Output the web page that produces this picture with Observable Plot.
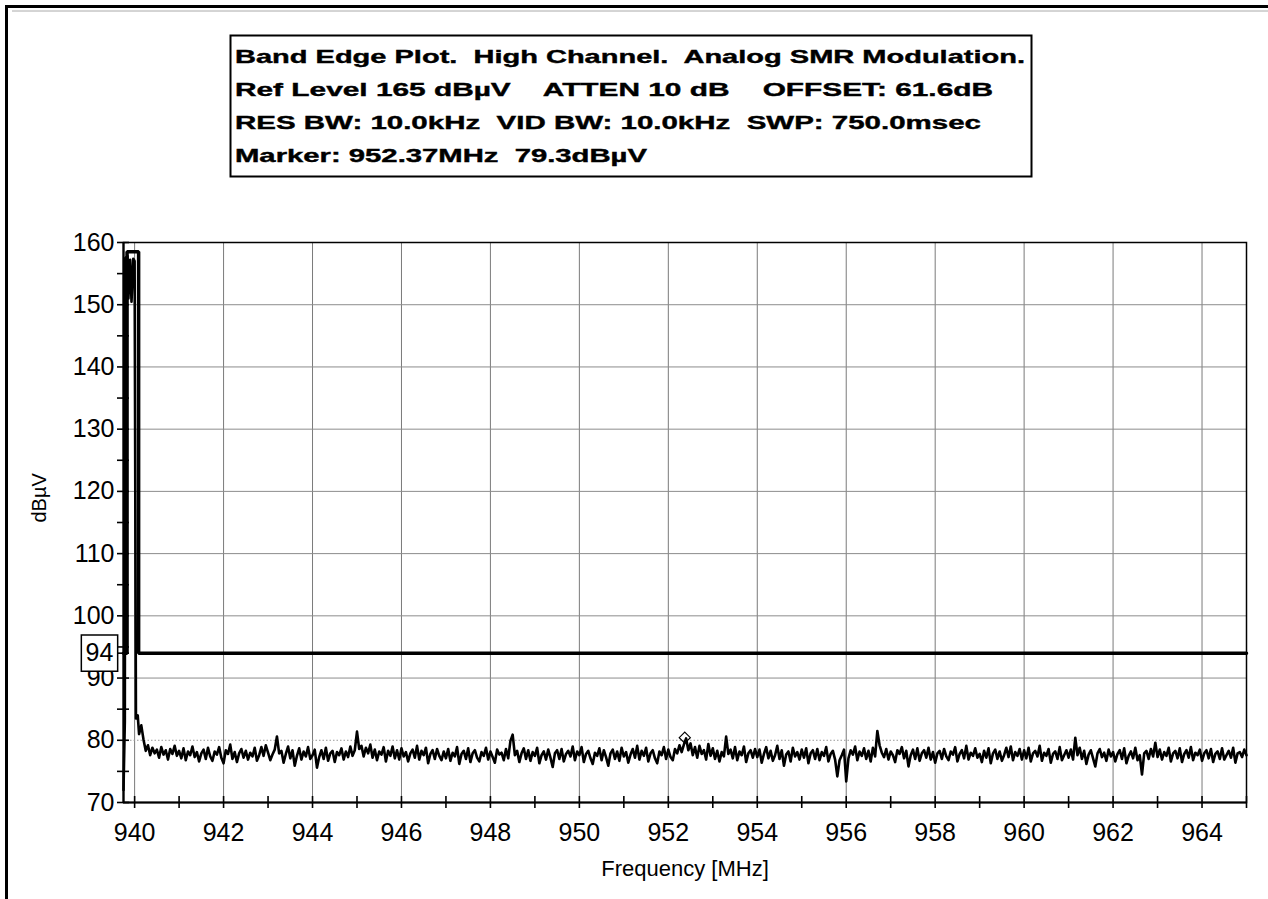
<!DOCTYPE html>
<html>
<head>
<meta charset="utf-8">
<script src="https://cdn.jsdelivr.net/npm/d3@7"></script>
<script src="https://cdn.jsdelivr.net/npm/@observablehq/plot@0.6"></script>
<style>
  html, body { margin: 0; padding: 0; background: #fff; }
  #page { position: relative; width: 1268px; height: 899px; overflow: hidden; font-family: "Liberation Sans", Arial, sans-serif; }
  #page > svg, #page > div { position: absolute; }
</style>
</head>
<body>
<div id="page">
  <svg id="border" width="1268" height="899" style="left:0;top:0">
    <line x1="5" y1="6.5" x2="1268" y2="6.5" stroke="#000" stroke-width="3"/>
    <line x1="12" y1="11" x2="1268" y2="11" stroke="#aaa" stroke-width="1"/>
    <line x1="6.5" y1="5" x2="6.5" y2="899" stroke="#000" stroke-width="3"/>
  </svg>
  <svg id="header" width="1268" height="190" style="left:0;top:0"></svg>
  <div id="chart" style="left:0;top:200px"></div>
</div>
<script>
// Analyzer settings shown in the header box
const headerLines = [
  "Band Edge Plot.  High Channel.  Analog SMR Modulation.",
  "Ref Level 165 dB\u00b5V    ATTEN 10 dB    OFFSET: 61.6dB",
  "RES BW: 10.0kHz  VID BW: 10.0kHz  SWP: 750.0msec",
  "Marker: 952.37MHz  79.3dB\u00b5V"
];

// Marker readout
const markerFreq = 952.37;
const markerLevel = 79.3;

// Limit line (dBµV)
const limitLevel = 94;
const limitFreq = [939.75, 939.83, 939.83, 940.09, 940.09, 965];
const limitLevels = [94, 94, 158.5, 158.5, 94, 94];

// Carrier edge at the low end of the sweep
const carrierFreq = [939.75, 939.78, 939.79, 939.84, 939.86, 939.9, 939.93, 939.97, 940.0, 940.03, 940.07, 940.1];
const carrierLevel = [72, 83, 157.5, 157.8, 151, 157.2, 150.5, 157.4, 157, 83.5, 84, 81];

// Noise floor trace, 0.05 MHz bins starting at 940.15 MHz
const noiseStart = 940.15;
const noiseStep = 0.05;
const noiseLevel = [
  82.4, 80.1, 78.3, 79.2, 77.6, 78.8, 77.9, 78.5, 77.2, 78.9, 77.7, 78.4, 76.9, 78.6, 77.8, 79.1, 77.5,
  78.3, 77.1, 78.7, 76.8, 78.2, 77.6, 79.0, 77.3, 78.1, 76.6, 77.9, 78.5, 77.0, 78.8, 77.4, 76.7, 78.2, 77.7, 78.9, 77.2,
  76.3, 78.4, 77.8, 79.3, 77.0, 78.1, 76.5, 77.9, 78.6, 77.2, 78.3, 76.9, 78.0, 77.4, 78.8, 76.7, 77.6, 78.9, 77.5, 79.2,
  78.0, 76.8, 77.7, 78.5, 80.6, 77.9, 78.3, 76.4, 77.8, 79.0, 77.1, 78.4, 75.9, 77.5, 78.7, 76.9, 78.2, 77.4, 78.9, 77.0,
  77.6, 78.5, 75.6, 77.3, 78.4, 77.0, 78.8, 76.7, 77.9, 78.3, 76.5, 78.1, 77.6, 78.7, 76.9, 78.2, 77.3, 79.0, 77.5, 78.4,
  81.4, 78.6, 79.1, 77.4, 78.8, 77.9, 79.3, 77.2, 78.5, 76.8, 78.2, 77.7, 78.9, 76.6, 78.3, 77.5, 79.0, 77.1, 78.4, 76.9,
  78.7, 77.4, 78.1, 76.6, 77.9, 78.5, 77.2, 79.1, 76.9, 78.3, 77.6, 78.8, 76.3, 77.8, 78.4, 77.0, 78.6, 77.5, 76.8, 78.2,
  77.1, 78.6, 76.7, 78.0, 77.4, 78.9, 76.2, 77.8, 78.3, 77.0, 78.7, 76.5, 77.9, 78.4, 77.2, 76.6, 78.1, 77.5, 78.8, 76.9,
  78.2, 77.3, 76.4, 78.5, 77.7, 78.0, 76.8, 78.6, 77.1, 79.9, 80.9, 77.6, 78.3, 76.5, 77.9, 78.7, 77.0, 78.4, 76.7, 78.1,
  77.5, 78.8, 76.3, 77.6, 78.2, 76.9, 78.5, 77.2, 75.7, 77.9, 78.4, 77.0, 78.6, 76.6, 77.8, 78.3, 77.4, 79.0, 76.8, 78.2,
  77.6, 78.9, 76.5, 77.8, 78.3, 77.1, 76.2, 78.0, 77.5, 78.7, 76.8, 78.4, 77.3, 75.9, 77.9, 78.5, 77.0, 78.2, 76.7, 78.8,
  77.4, 78.1, 76.4, 77.7, 78.6, 77.2, 79.1, 76.9, 78.3, 77.5, 78.8, 76.6, 77.9, 78.4, 77.1, 76.3, 78.2, 77.6, 78.9, 77.0,
  78.5, 77.3, 76.8, 78.6, 77.9, 79.2, 78.1, 79.3, 80.3, 78.4, 79.5, 77.6, 78.9, 77.2, 79.1, 77.8, 78.4, 76.9, 79.4, 77.5,
  78.7, 77.0, 78.3, 76.6, 78.1, 77.4, 80.6, 77.8, 78.5, 77.1, 78.9, 76.8, 78.2, 77.6, 79.0, 76.5, 77.9, 78.4, 77.2, 78.6,
  77.3, 78.5, 76.4, 77.8, 78.9, 77.1, 78.3, 76.7, 77.6, 79.1, 77.0, 78.4, 75.9, 77.7, 78.2, 76.6, 78.8, 77.4, 78.1, 76.9,
  78.5, 77.2, 78.7, 76.3, 77.9, 78.4, 77.0, 78.6, 76.8, 78.1, 77.5, 78.9, 76.6, 77.8, 78.3, 76.9, 74.2, 76.8, 77.6, 78.5,
  73.4, 77.1, 78.4, 77.7, 79.0, 76.8, 78.2, 77.5, 78.7, 77.0, 78.3, 76.6, 78.8, 77.4, 81.5, 79.2, 78.0, 77.3, 78.6, 76.9,
  78.2, 77.6, 76.5, 78.4, 77.8, 78.9, 77.1, 78.3, 75.8, 77.6, 78.5, 77.0, 78.7, 76.7, 77.9, 78.4, 77.2, 78.8, 76.9, 78.1,
  76.4, 77.9, 78.3, 77.0, 78.6, 77.4, 76.8, 78.2, 77.7, 78.9, 76.6, 77.8, 78.4, 77.1, 79.1, 76.9, 78.0, 77.5, 78.7, 77.2,
  77.8, 76.5, 78.3, 77.2, 78.7, 76.3, 77.9, 78.5, 77.0, 78.2, 76.7, 77.6, 78.8, 77.3, 79.0, 76.8, 78.1, 77.5, 78.6, 76.9,
  78.4, 77.1, 78.8, 76.6, 77.9, 78.3, 77.4, 79.1, 76.7, 78.0, 77.5, 78.6, 76.4, 77.8, 78.2, 77.0, 78.9, 76.8, 77.6, 78.4,
  77.2, 78.5, 76.9, 80.4, 77.6, 78.8, 77.0, 78.3, 76.2, 77.7, 78.4, 77.1, 75.8, 77.9, 78.6, 77.3, 78.0, 76.7, 78.5, 77.4,
  78.1, 76.6, 77.8, 78.4, 77.0, 78.7, 76.3, 77.5, 78.2, 77.1, 78.8, 76.8, 77.6, 74.5, 77.9, 78.3, 77.0, 78.6, 77.4, 79.6,
  77.3, 78.5, 76.9, 78.1, 77.5, 78.8, 76.6, 77.9, 78.3, 77.1, 78.7, 76.5, 77.8, 78.4, 77.2, 78.9, 76.8, 78.0, 77.6, 78.5,
  76.7, 77.9, 78.4, 77.1, 78.6, 76.5, 77.8, 78.2, 77.0, 78.7, 76.9, 77.6, 78.3, 77.2, 78.8, 76.4, 77.9, 78.1, 77.3, 78.5,
  77.6
];

// Axis ticks
const freqLabels = [940, 942, 944, 946, 948, 950, 952, 954, 956, 958, 960, 962, 964];
const freqTicks = [940, 941, 942, 943, 944, 945, 946, 947, 948, 949, 950, 951, 952, 953, 954, 955, 956, 957, 958, 959, 960, 961, 962, 963, 964, 965];
const levelLabels = [70, 80, 90, 100, 110, 120, 130, 140, 150, 160];
const levelTicks = [70, 75, 80, 85, 90, 94, 95, 100, 105, 110, 115, 120, 125, 130, 135, 140, 145, 150, 155, 160];
const levelGrid = [90, 100, 110, 120, 130, 140, 150];
const displayLine = [80];

const xDomain = [939.75, 965];
const yDomain = [70, 160];

// ---- header box ----
const header = d3.select("#header");
header.append("rect")
  .attr("x", 230.5).attr("y", 35.5).attr("width", 801).attr("height", 141)
  .attr("fill", "#fff").attr("stroke", "#000").attr("stroke-width", 2);
const lineWidths = [790, 758, 746, 412];
header.selectAll("text.hl").data(headerLines).join("text")
  .attr("class", "hl")
  .attr("x", 235)
  .attr("y", (d, i) => 63 + i * 33)
  .attr("textLength", (d, i) => lineWidths[i])
  .attr("lengthAdjust", "spacingAndGlyphs")
  .attr("font-family", "'Liberation Sans', Arial, sans-serif")
  .attr("font-weight", "bold")
  .attr("font-size", 19)
  .attr("fill", "#000")
  .attr("stroke", "#000")
  .attr("stroke-width", 0.4)
  .style("white-space", "pre")
  .text(d => d);

// ---- trace data ----
const trace = [
  ...carrierFreq.map((f, i) => ({f, v: carrierLevel[i]})),
  ...noiseLevel.map((v, i) => ({f: noiseStart + i * noiseStep, v}))
];
const limit = limitFreq.map((f, i) => ({f, v: limitLevels[i]}));

const W = 1268, H = 699;
const mL = 123, mR = 22, mT = 42, mB = 97;
const innerW = W - mL - mR;
const innerH = H - mT - mB;

const chart = Plot.plot({
  width: W,
  height: H,
  marginLeft: mL,
  marginRight: mR,
  marginTop: mT,
  marginBottom: mB,
  style: {fontFamily: "'Liberation Sans', Arial, sans-serif", color: "#000", background: "transparent", overflow: "visible"},
  x: {domain: xDomain, axis: null},
  y: {domain: yDomain, axis: null},
  marks: [
    // grid
    Plot.ruleX(freqLabels, {x: d => d, stroke: "#7a7a7a", strokeWidth: 1}),
    Plot.ruleY(levelGrid, {y: d => d, stroke: "#8c8c8c", strokeWidth: 1}),
    Plot.ruleY(displayLine, {y: d => d, stroke: "#9a9a9a", strokeWidth: 1, strokeDasharray: "1.5,2"}),
    // frame and axis lines
    Plot.frame({stroke: "#000", strokeWidth: 1.5}),
    Plot.ruleX([xDomain[0]], {x: d => d, stroke: "#000", strokeWidth: 2.2}),
    Plot.ruleY([yDomain[0]], {y: d => d, stroke: "#000", strokeWidth: 2.2}),
    // ticks crossing the axes
    Plot.tickX(freqTicks, {x: d => d, insetTop: innerH - 6, insetBottom: -6, stroke: "#000", strokeWidth: 1.6}),
    Plot.tickY(levelTicks, {y: d => d, insetLeft: -6, insetRight: innerW - 6, stroke: "#000", strokeWidth: 1.6}),
    // tick labels
    Plot.axisX(freqLabels, {tickSize: 0, tickPadding: 21, fontSize: 25, label: null, tickFormat: d => String(d)}),
    Plot.axisY(levelLabels, {tickSize: 0, tickPadding: 9, fontSize: 25, label: null, tickFormat: d => String(d)}),
    // axis titles
    Plot.text(["Frequency [MHz]"], {frameAnchor: "bottom", dy: 73, fontSize: 22, text: d => d}),
    Plot.text(["dB\u00b5V"], {frameAnchor: "left", dx: -84, rotate: -90, fontSize: 20, text: d => d}),
    // limit line
    Plot.line(limit, {x: "f", y: "v", stroke: "#000", strokeWidth: 3.5, strokeLinejoin: "miter"}),
    // measured trace
    Plot.line(trace, {x: "f", y: "v", stroke: "#000", strokeWidth: 2.6}),
    // limit label box
    Plot.dot([limitLevel], {x: () => xDomain[0], y: d => d, dx: -24, symbol: "square", r: 20.5, fill: "#fff", stroke: "#000", strokeWidth: 1.5}),
    Plot.text([limitLevel], {x: () => xDomain[0], y: d => d, dx: -24, text: d => String(d), fontSize: 25}),
    // marker
    Plot.dot([{f: markerFreq, v: markerLevel}], {x: "f", y: "v", dy: -7, symbol: "diamond2", r: 5, fill: "none", stroke: "#000", strokeWidth: 1.2})
  ]
});
document.getElementById("chart").appendChild(chart);
</script>
</body>
</html>
